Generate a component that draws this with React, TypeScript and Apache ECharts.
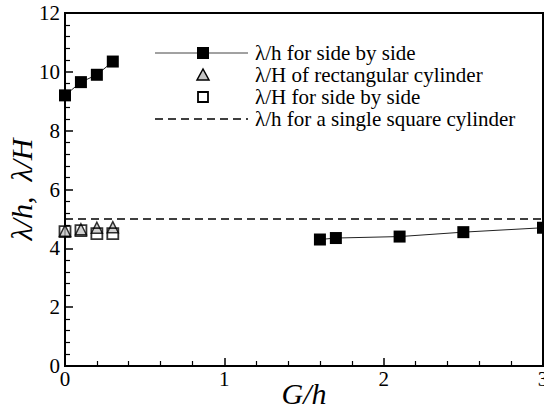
import React, { useEffect, useRef } from "react";
import * as echarts from "echarts";

const sideBySideA: number[][] = [[0, 9.2], [0.1, 9.65], [0.2, 9.9], [0.3, 10.35]];
const sideBySideB: number[][] = [[1.6, 4.3], [1.7, 4.35], [2.1, 4.4], [2.5, 4.55], [3.0, 4.7]];
const rectCyl: number[][] = [[0, 4.6], [0.1, 4.65], [0.2, 4.7], [0.3, 4.72]];
const sideBySideH: number[][] = [[0, 4.57], [0.1, 4.6], [0.2, 4.5], [0.3, 4.5]];
const singleSquare: number[][] = [[0, 5.0], [3, 5.0]];
const legendLabels = [
  "λ/h for side by side",
  "λ/H of rectangular cylinder",
  "λ/H for side by side",
  "λ/h for a single square cylinder",
];

const SERIF = "Liberation Serif";

export default function App() {
  const ref = useRef<HTMLDivElement>(null);
  useEffect(() => {
    document.body.style.margin = "0";
    const chart = echarts.init(ref.current!, null, { renderer: "svg" });
    const lx0 = 155, lx1 = 248, lmx = 203, ltx = 255;
    const ly = [53, 75, 97, 119];
    chart.setOption({
      animation: false,
      backgroundColor: "#fff",
      grid: {
        left: 65, top: 13, right: 1, bottom: 42, show: true, borderColor: "#000", borderWidth: 2,
        backgroundColor: "transparent", outerBoundsMode: "none", containLabel: false,
      },
      xAxis: {
        type: "value", min: 0, max: 3, interval: 1,
        name: "G/h", nameLocation: "middle", nameGap: 12, nameMoveOverlap: false,
        nameTextStyle: { fontFamily: SERIF, fontStyle: "italic", fontSize: 30, color: "#000" },
        axisLine: { lineStyle: { color: "#000", width: 2 } },
        axisTick: { inside: true, length: 8, lineStyle: { color: "#000", width: 1.5 } },
        minorTick: { show: true, splitNumber: 5, length: 5, lineStyle: { color: "#000", width: 1.2 } },
        splitLine: { show: false },
        axisLabel: { fontFamily: SERIF, fontSize: 21, color: "#000", margin: 2, hideOverlap: false },
      },
      yAxis: {
        type: "value", min: 0, max: 12, interval: 2,
        name: "λ/h,  λ/H", nameLocation: "middle", nameGap: 29, nameRotate: 90, nameMoveOverlap: false,
        nameTextStyle: { fontFamily: SERIF, fontStyle: "italic", fontSize: 30, color: "#000" },
        axisLine: { lineStyle: { color: "#000", width: 2 } },
        axisTick: { inside: true, length: 8, lineStyle: { color: "#000", width: 1.5 } },
        minorTick: { show: true, splitNumber: 5, length: 5, lineStyle: { color: "#000", width: 1.2 } },
        splitLine: { show: false },
        axisLabel: { fontFamily: SERIF, fontSize: 21, color: "#000", margin: 5, hideOverlap: false },
      },
      series: [
        {
          type: "line", data: singleSquare, symbol: "none", clip: false,
          lineStyle: { color: "#000", width: 1.5, type: [8, 5] },
        },
        {
          type: "line", data: sideBySideA, symbol: "rect", symbolSize: 12, clip: false,
          lineStyle: { color: "#222", width: 1 }, itemStyle: { color: "#000" },
        },
        {
          type: "line", data: sideBySideB, symbol: "rect", symbolSize: 12, clip: false,
          lineStyle: { color: "#222", width: 1 }, itemStyle: { color: "#000" },
        },
        {
          type: "scatter", data: rectCyl, symbol: "triangle", symbolSize: [11, 11], clip: false,
          itemStyle: { color: "#c4c4c4", borderColor: "#000", borderWidth: 1.5 },
        },
        {
          type: "scatter", data: sideBySideH, symbol: "rect", symbolSize: 11, clip: false,
          itemStyle: { color: "transparent", borderColor: "#000", borderWidth: 1.8 },
        },
      ],
      graphic: [
        { type: "line", shape: { x1: lx0, y1: ly[0], x2: lx1, y2: ly[0] }, style: { stroke: "#444", lineWidth: 1 } },
        { type: "rect", shape: { x: lmx - 6, y: ly[0] - 6, width: 12, height: 12 }, style: { fill: "#000" } },
        { type: "polygon", shape: { points: [[lmx, ly[1] - 6], [lmx - 6, ly[1] + 5], [lmx + 6, ly[1] + 5]] }, style: { fill: "#c4c4c4", stroke: "#000", lineWidth: 1.5 } },
        { type: "rect", shape: { x: lmx - 5, y: ly[2] - 5, width: 10, height: 10 }, style: { fill: "none", stroke: "#000", lineWidth: 1.8 } },
        { type: "line", shape: { x1: lx0, y1: ly[3], x2: lx1, y2: ly[3] }, style: { stroke: "#000", lineWidth: 1.5, lineDash: [8, 5] } },
        ...legendLabels.map((t, i) => ({
          type: "text", x: ltx, y: ly[i],
          style: { text: t, fontFamily: SERIF, fontSize: 21, fill: "#000", verticalAlign: "middle" },
        })),
      ],
    });
    return () => chart.dispose();
  }, []);
  return <div ref={ref} style={{ width: 544, height: 408 }} />;
}
